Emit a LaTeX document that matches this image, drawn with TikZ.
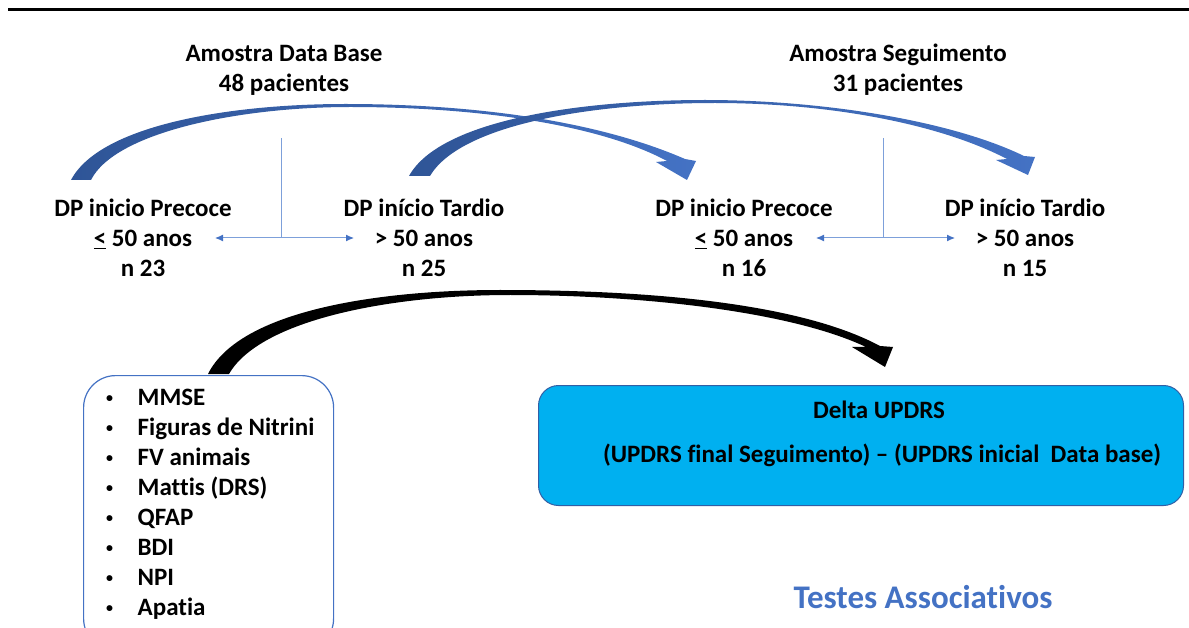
\documentclass[tikz,border=0pt]{standalone}
\usepackage{fontspec}
\setmainfont{Carlito}[Ligatures={NoCommon}]
\usetikzlibrary{arrows.meta}
\definecolor{arcdark}{RGB}{47,85,151}
\definecolor{arclight}{RGB}{68,114,196}
\definecolor{thinblue}{RGB}{125,160,218}
\definecolor{boxfill}{RGB}{0,176,240}
\definecolor{boxline}{RGB}{50,95,165}
\definecolor{titleblue}{RGB}{68,114,196}
\newcommand{\smallbullet}{\raisebox{3pt}{\fontsize{14}{14}\selectfont •}}
\begin{document}
\begin{tikzpicture}[x=1pt,y=-1pt,
  lbl/.style={font=\fontsize{25}{30}\selectfont\bfseries, align=center, inner sep=0pt},
  item/.style={font=\fontsize{25}{30}\selectfont\bfseries, anchor=base west, inner sep=0pt},
  thin/.style={draw=thinblue, line width=1pt},
  twoway/.style={thin, {Latex[length=8pt,width=7pt,color=arclight]}-{Latex[length=8pt,width=7pt,color=arclight]}},
  fatblue/.style={left color=arcdark, right color=arclight},
  listbox/.style={draw=arclight, line width=1.2pt, rounded corners=32pt, fill=white},
  deltabox/.style={draw=boxline, line width=1pt, rounded corners=20pt, fill=boxfill}
]
\useasboundingbox (0,0) rectangle (1189,628);
\clip (0,0) rectangle (1189,628);

% top rule
\draw[line width=3pt] (8,10) -- (1189,10);

% titles
\node[lbl] (tbase) at (284,70) {Amostra Data Base\\48 pacientes};
\node[lbl] (tseg) at (898,70) {Amostra Seguimento\\31 pacientes};

% group nodes
\node[lbl] (g1) at (143,238) {DP inicio Precoce\\\underline{<} 50 anos\\n 23};
\node[lbl] (g2) at (424,238) {DP início Tardio\\> 50 anos\\n 25};
\node[lbl] (g3) at (744,238) {DP inicio Precoce\\\underline{<} 50 anos\\n 16};
\node[lbl] (g4) at (1025,238) {DP início Tardio\\> 50 anos\\n 15};

% thin split connectors
\coordinate (v1t) at (281,138); \coordinate (v1b) at (281,238);
\coordinate (h1l) at (215,238); \coordinate (h1r) at (354,238);
\draw[thin] (v1t) -- (v1b);
\draw[twoway] (h1l) -- (h1r);
\coordinate (v2t) at (883,138); \coordinate (v2b) at (883,238);
\coordinate (h2l) at (816,238); \coordinate (h2r) at (955,238);
\draw[thin] (v2t) -- (v2b);
\draw[twoway] (h2l) -- (h2r);

% fat curved arrow 1 (Data Base)
\shade[fatblue] (71,180) .. controls (100,125) and (230,104) .. (345,104)
  .. controls (480,104) and (600,122) .. (685,159)
  -- (696,161) -- (687,180) -- (656,162) -- (667,161)
  .. controls (600,125) and (480,107) .. (350,107)
  .. controls (240,107) and (115,132) .. (91,180) -- cycle;

% fat curved arrow 2 (Seguimento)
\shade[fatblue] (409,176) .. controls (440,120) and (580,100) .. (705,100)
  .. controls (820,100) and (950,120) .. (1024,156)
  -- (1035,157) -- (1028,175) -- (996,160) -- (1007,159)
  .. controls (940,124) and (830,103) .. (715,103)
  .. controls (590,103) and (460,125) .. (430,176) -- cycle;

% list box
\node[listbox, minimum width=250pt, minimum height=275pt, anchor=north west] (tests) at (83,375) {};
\foreach \t [count=\i] in {MMSE, Figuras de Nitrini, FV animais, Mattis (DRS), QFAP, BDI, NPI, Apatia}{
  \node[item] (it\i) at (106,{405+30*(\i-1)}) {\makebox[31.5pt][l]{\smallbullet}\t};
}

% delta box
\node[deltabox, minimum width=645pt, minimum height=120pt, anchor=north west] (delta) at (538,385) {};
\node[lbl] (dtitle) at (879,410) {Delta UPDRS};
\node[lbl] (dform) at (882,455) {(UPDRS final Seguimento) – (UPDRS inicial\ \ Data base)};

% black curved arrow
\fill[black] (208,374) .. controls (240,310) and (380,290) .. (500,290)
  .. controls (650,290) and (800,303) .. (880,346)
  -- (893,347) -- (885,367) -- (852,347) -- (866,347)
  .. controls (790,311) and (640,295) .. (510,295)
  .. controls (390,295) and (260,320) .. (229,374) -- cycle;

% footer label
\node[font=\fontsize{33}{38}\selectfont\bfseries, text=titleblue, inner sep=0pt] (assoc) at (923,597) {Testes Associativos};
\end{tikzpicture}
\end{document}
